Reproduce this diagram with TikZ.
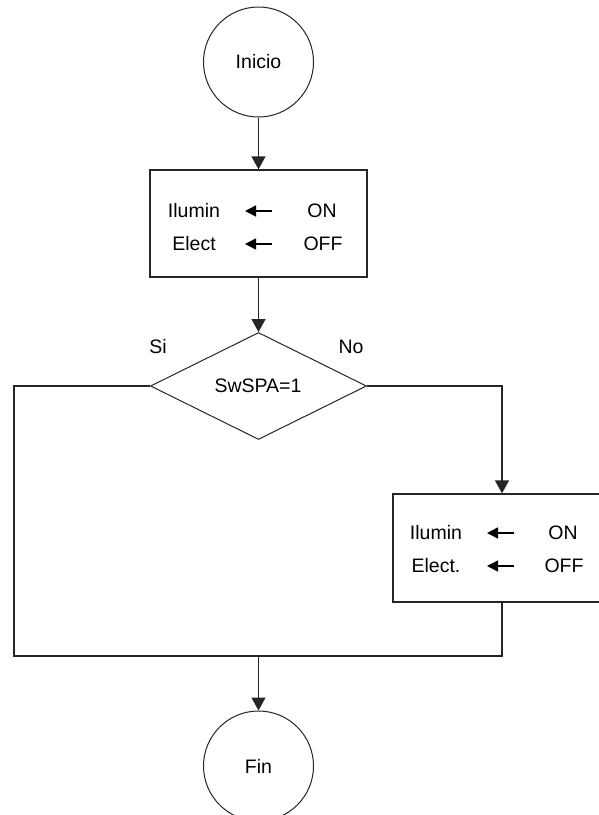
\documentclass[tikz,border=0pt]{standalone}
\usepackage{fontspec}
\setmainfont{Liberation Sans}
\usetikzlibrary{arrows.meta,shapes.geometric}
\begin{document}
\begin{tikzpicture}[x=1pt,y=-1pt,
  line/.style={draw=black!85, line width=1.3pt},
  arr/.style={line, -{Triangle[length=13pt,width=14pt]}},
  txt/.style={font=\fontsize{19.5}{22}\selectfont, inner sep=0pt, text=black},
  term/.style={circle, draw=black!85, line width=1pt, minimum size=110pt, inner sep=0pt, txt},
  proc/.style={rectangle, draw=black!85, line width=1.3pt, inner sep=0pt},
  glyph/.style={draw=black, line width=1.4pt, -{Triangle[length=11pt,width=11pt]}},
]
\useasboundingbox[fill=white] (0,0) rectangle (598,815);
\node[term] (ini) at (258.5,62) {Inicio};
\node[proc, minimum width=217pt, minimum height=107pt] (b1) at (258.5,223.5) {};
\node[diamond, draw=black!85, line width=1pt, minimum width=216pt, minimum height=107pt, inner sep=0pt] (dia) at (258.5,386) {};
\node[txt] (cond) at (258,386) {SwSPA=1};
\node[txt] (si) at (158,347) {Si};
\node[txt] (no) at (351,347) {No};
\node[proc, minimum width=218pt, minimum height=108pt] (b2) at (502,548) {};
\node[term] (fin) at (258.5,766) {Fin};

\node[txt] (t11) at (194,211) {Ilumin};
\node[txt] (t13) at (322,211) {ON};
\node[txt] (t21) at (194,244) {Elect};
\node[txt] (t23) at (323,244) {OFF};
\coordinate (t12a) at (272,211); \coordinate (t12b) at (245,211);
\coordinate (t22a) at (272,244); \coordinate (t22b) at (245,244);

\node[txt] (u11) at (436,533) {Ilumin};
\node[txt] (u13) at (563,533) {ON};
\node[txt] (u21) at (436,566) {Elect.};
\node[txt] (u23) at (564,566) {OFF};
\coordinate (u12a) at (514,533); \coordinate (u12b) at (487,533);
\coordinate (u22a) at (514,566); \coordinate (u22b) at (487,566);

\draw[glyph] (t12a) -- (t12b);
\draw[glyph] (t22a) -- (t22b);
\draw[glyph] (u12a) -- (u12b);
\draw[glyph] (u22a) -- (u22b);

\coordinate (L) at (14,386);
\coordinate (BL) at (14,656);
\coordinate (BR) at (502,656);
\coordinate (J) at (258.5,656);

\draw[arr] (ini.south) -- (b1.north);
\draw[arr] (b1.south) -- (dia.north);
\draw[arr] (dia.east) -| (b2.north);
\draw[line] (dia.west) -- (L) -- (BL) -- (BR) -- (b2.south);
\draw[arr] (J) -- (fin.north);
\end{tikzpicture}
\end{document}
